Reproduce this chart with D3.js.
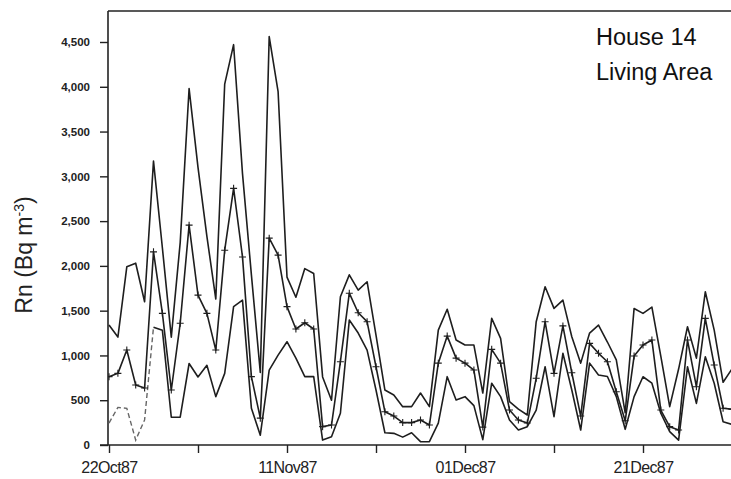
<!DOCTYPE html>
<html>
<head>
<meta charset="utf-8">
<script src="https://cdn.jsdelivr.net/npm/d3@7"></script>
<style>
    body { margin: 0; background: #fff; }
    svg { display: block; font-family: "Liberation Sans", Arial, sans-serif; }
</style>
</head>
<body>
<div id="chart"></div>
<script>
// Daily radon readings, House 14 living area, starting 22 Oct 1987
const startDate = Date.UTC(1987, 9, 22);
const dayCount = 71;

// daily maximum
const upperValues = [1339, 1205, 1990, 2030, 1600, 3170, 2200, 1205, 2260, 3980,
    3100, 2330, 1630, 4030, 4470, 3030, 1900, 810, 4560, 3945,
    1875, 1650, 1970, 1915, 760, 500, 1655, 1900, 1730, 1823,
    1228, 614, 558, 428, 428, 580, 428, 1283, 1516, 1172,
    1116, 1116, 580, 1414, 1190, 484, 400, 335, 1377, 1767,
    1525, 1618, 1209, 914, 1250, 1339, 1150, 950, 360, 1525,
    1470, 1540, 993, 428, 848, 1320, 970, 1711, 1283, 700, 850];

// daily mean (drawn with + markers)
const meanValues = [763, 800, 1060, 670, 636, 2157, 1470, 614, 1359, 2455,
    1674, 1470, 1060, 2175, 2866, 2100, 763, 300, 2310, 2120,
    1545, 1295, 1365, 1295, 205, 223, 930, 1695, 1477, 1377,
    874, 372, 323, 250, 250, 279, 223, 914, 1216, 970,
    914, 837, 200, 1068, 914, 390, 279, 245, 745, 1377,
    800, 1330, 807, 323, 1135, 1024, 930, 595, 270, 993,
    1116, 1172, 390, 205, 167, 1172, 651, 1414, 893, 410, 400];

// daily minimum (first days printed dashed)
const lowerValues = [245, 420, 410, 55, 280, 1316, 1280, 310, 310, 910,
    760, 890, 540, 800, 1545, 1618, 410, 110, 837, 1004,
    1153, 970, 763, 763, 55, 93, 355, 1395, 1250, 1060,
    614, 137, 130, 88, 137, 37, 37, 245, 763, 502,
    540, 440, 60, 690, 540, 279, 167, 205, 390, 874,
    316, 1024, 614, 167, 914, 781, 765, 540, 175, 540,
    762, 690, 355, 150, 55, 874, 465, 985, 690, 260, 230];
const lowerDashedUntil = 5;

const yTicks = [0, 500, 1000, 1500, 2000, 2500, 3000, 3500, 4000, 4500];
const titleLines = ["House 14", "Living Area"];

const width = 731;
const height = 479;
const plotLeft = 108;
const plotTop = 11;
const plotBottom = 445;

const svg = d3.select("#chart")
    .append("svg")
    .attr("width", width)
    .attr("height", height);

const dates = d3.range(dayCount).map(i => d3.utcDay.offset(new Date(startDate), i));

const x = d3.scaleUtc()
    .domain([new Date(startDate), d3.utcDay.offset(new Date(startDate), dayCount)])
    .range([109, 109 + dayCount * 8.9]);

const y = d3.scaleLinear()
    .domain([0, 4500])
    .range([plotBottom, 42]);

svg.append("clipPath").attr("id", "plot-clip")
    .append("rect")
    .attr("x", plotLeft)
    .attr("y", plotTop)
    .attr("width", width - plotLeft)
    .attr("height", plotBottom - plotTop + 2);

// frame: top border, left axis line
svg.append("line")
    .attr("x1", plotLeft).attr("x2", width)
    .attr("y1", plotTop).attr("y2", plotTop)
    .attr("stroke", "#222").attr("stroke-width", 1.6);

// Y axis
const yAxis = svg.append("g")
    .attr("transform", `translate(${plotLeft},0)`)
    .call(d3.axisLeft(y).tickValues(yTicks).tickFormat(d3.format(",")).tickSize(8).tickPadding(10));
yAxis.select(".domain").remove();
yAxis.append("line")
    .attr("x1", 0).attr("x2", 0)
    .attr("y1", plotTop).attr("y2", plotBottom)
    .attr("stroke", "#222").attr("stroke-width", 1.6);
yAxis.selectAll(".tick line").attr("stroke", "#222").attr("stroke-width", 1.4);
yAxis.selectAll(".tick text")
    .attr("fill", "#222")
    .style("font-size", "11.5px")
    .style("font-weight", "bold")
    .style("font-family", "'Liberation Sans', Arial, sans-serif");

// X axis: ticks every 10 days, labels every 20
const xTickDates = d3.range(0, dayCount, 10).map(d => d3.utcDay.offset(new Date(startDate), d));
const fmt = d3.utcFormat("%d%b%y");
const xAxis = svg.append("g")
    .attr("transform", `translate(0,${plotBottom})`)
    .call(d3.axisBottom(x).tickValues(xTickDates)
        .tickFormat((d, i) => i % 2 === 0 ? fmt(d) : "")
        .tickSize(8).tickPadding(9));
xAxis.select(".domain").remove();
xAxis.append("line")
    .attr("x1", 100).attr("x2", width)
    .attr("stroke", "#222").attr("stroke-width", 1.6);
xAxis.selectAll(".tick line").attr("stroke", "#222").attr("stroke-width", 1.4);
xAxis.selectAll(".tick text")
    .attr("fill", "#222")
    .style("font-size", "16px")
    .style("letter-spacing", "-0.6px")
    .style("font-family", "'Liberation Sans', Arial, sans-serif");

// Y axis title
const yTitle = svg.append("text")
    .attr("transform", `translate(32,255) rotate(-90)`)
    .attr("text-anchor", "middle")
    .attr("fill", "#222")
    .style("font-size", "23px");
yTitle.append("tspan").text("Rn (Bq m");
yTitle.append("tspan").attr("dy", "-0.55em").style("font-size", "14px").text("-3");
yTitle.append("tspan").attr("dy", "0.35em").text(")");

// Series
const plot = svg.append("g").attr("clip-path", "url(#plot-clip)");
const line = d3.line()
    .x((d, i) => x(dates[i]))
    .y(d => y(d));

plot.append("path")
    .attr("d", line(upperValues))
    .attr("fill", "none").attr("stroke", "#1e1e1e").attr("stroke-width", 1.6)
    .attr("stroke-linejoin", "round");

plot.append("path")
    .attr("d", line(meanValues))
    .attr("fill", "none").attr("stroke", "#1e1e1e").attr("stroke-width", 1.6)
    .attr("stroke-linejoin", "round");

const lowerLine = d3.line()
    .defined((d, i) => i >= lowerDashedUntil)
    .x((d, i) => x(dates[i]))
    .y(d => y(d));
plot.append("path")
    .attr("d", lowerLine(lowerValues))
    .attr("fill", "none").attr("stroke", "#1e1e1e").attr("stroke-width", 1.6)
    .attr("stroke-linejoin", "round");

const dashedLine = d3.line()
    .defined((d, i) => i <= lowerDashedUntil)
    .x((d, i) => x(dates[i]))
    .y(d => y(d));
plot.append("path")
    .attr("d", dashedLine(lowerValues))
    .attr("fill", "none").attr("stroke", "#666").attr("stroke-width", 1.4)
    .attr("stroke-dasharray", "5,3");

// + markers on the mean line
plot.selectAll(".mark")
    .data(meanValues)
    .enter()
    .append("path")
    .attr("class", "mark")
    .attr("transform", (d, i) => `translate(${x(dates[i])},${y(d)})`)
    .attr("d", "M-3.5,0H3.5M0,-3.5V3.5")
    .attr("stroke", "#1e1e1e").attr("stroke-width", 1.1);

// Title
svg.selectAll(".title")
    .data(titleLines)
    .enter()
    .append("text")
    .attr("class", "title")
    .attr("x", 596)
    .attr("y", (d, i) => 45 + i * 35)
    .attr("fill", "#111")
    .style("font-size", "23.5px")
    .text(d => d);
</script>
</body>
</html>
